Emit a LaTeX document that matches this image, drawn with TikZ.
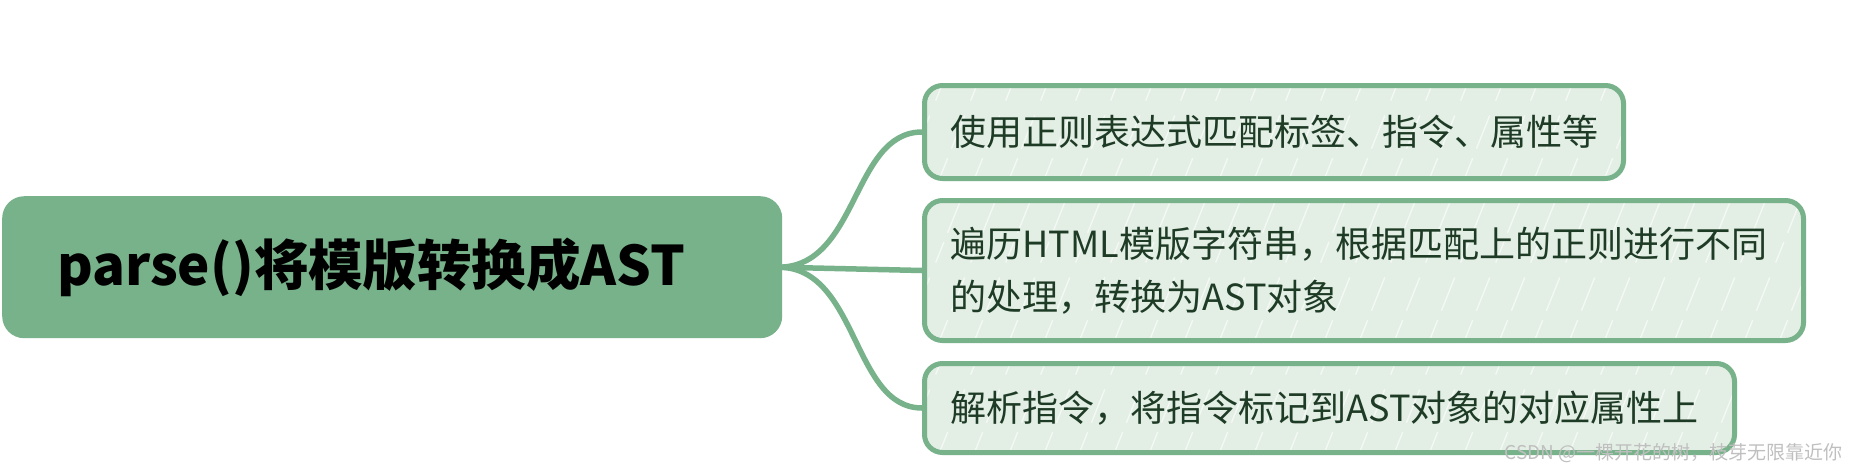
\documentclass[tikz,border=0pt]{standalone}
\usepackage{fontspec}
\newfontfamily\cjk{Noto Sans CJK SC}
\definecolor{mgreen}{HTML}{78B28A}
\definecolor{lgreen}{HTML}{E3EEE5}
\definecolor{tgreen}{HTML}{1E3B26}
\tikzset{
  rootbox/.style={fill=mgreen, draw=none, rounded corners=22pt, anchor=north west,
    inner xsep=55pt, inner ysep=0pt, align=left, text width=670pt, minimum height=142pt,
    font=\cjk\bfseries\fontsize{54.5}{60}\selectfont, text=black},
  hatch/.style={path picture={\foreach \k in {-160,-125,...,1000}{\draw[white,line width=1.4pt,opacity=.6,dash pattern=on 22pt off 10pt on 36pt off 16pt] ([xshift=\k pt]path picture bounding box.south west) -- ++(60,-150);}}},
  childbox/.style={fill=lgreen, draw=mgreen, line width=5pt, rounded corners=18pt, anchor=north west,
    inner xsep=26pt, inner ysep=0pt, align=left, hatch,
    font=\cjk\fontsize{36}{53}\selectfont, text=tgreen},
  conn/.style={draw=mgreen, line width=5.5pt, line cap=round},
  wm/.style={font=\cjk\fontsize{19}{22}\selectfont, text=gray!50, inner sep=0pt}
}
\begin{document}
\begin{tikzpicture}[x=1pt,y=-1pt]
\useasboundingbox (0,0) rectangle (1858,472);
\node[rootbox] (root) at (2,196) {parse()将模版转换成AST};
\node[childbox, text width=647pt, minimum height=93pt] (c1) at (922,83) {\raisebox{3pt}{使用正则表达式匹配标签、指令、属性等}};
\node[childbox, text width=827pt, minimum height=140pt] (c2) at (922,198) {遍历HTML模版字符串，根据匹配上的正则进行不同\\的处理，转换为AST对象};
\node[childbox, text width=758pt, minimum height=89pt] (c3) at (922,361) {解析指令，将指令标记到AST对象的对应属性上};
\draw[conn] ([xshift=-4pt]root.east) .. controls +(80,0) and +(-70,0) .. (c1.west);
\draw[conn] ([xshift=-4pt]root.east) -- (c2.west);
\draw[conn] ([xshift=-4pt]root.east) .. controls +(80,0) and +(-70,0) .. (c3.west);
\node[wm, anchor=east] (wm) at (1843,453) {CSDN @一棵开花的树，枝芽无限靠近你};
\end{tikzpicture}
\end{document}
